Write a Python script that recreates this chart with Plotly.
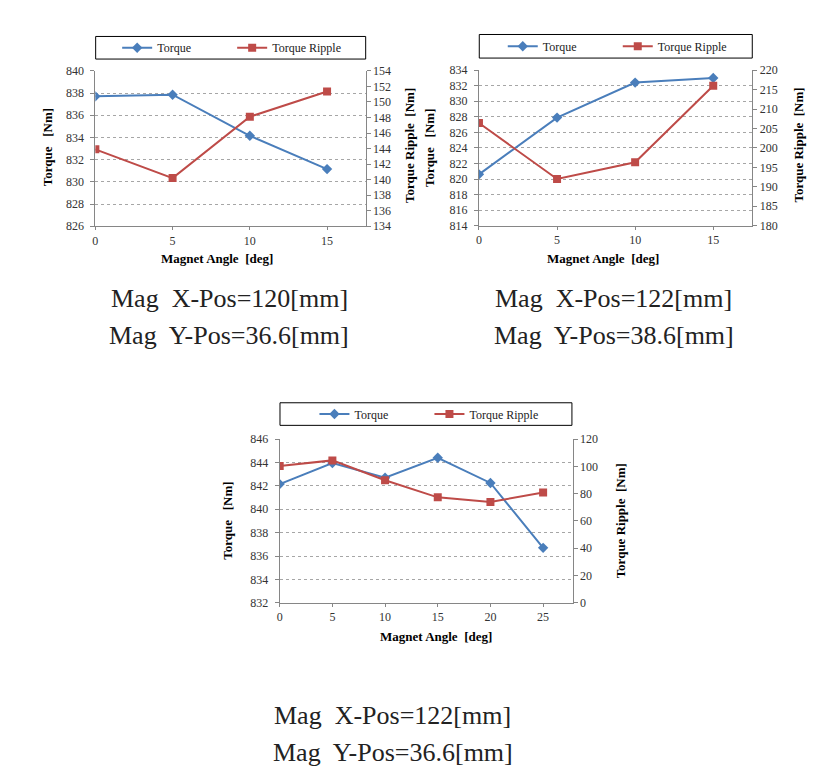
import plotly.graph_objects as go

W, H = 827, 780

# ---------------- data ----------------
angles_a = [0, 5, 10, 15]
torque_a = [837.7, 837.85, 834.15, 831.15]
ripple_a = [143.9, 140.2, 148.1, 151.35]

angles_b = [0, 5, 10, 15]
torque_b = [820.6, 827.9, 832.4, 833.0]
ripple_b = [206.4, 192.0, 196.3, 216.0]

angles_c = [0, 5, 10, 15, 20, 25]
torque_c = [842.15, 843.95, 842.7, 844.4, 842.25, 836.7]
ripple_c = [100.3, 104.4, 89.8, 77.3, 73.9, 80.9]

series_names = ["Torque", "Torque Ripple"]
captions_a = ["Mag\u00a0 X-Pos=120[mm]", "Mag\u00a0 Y-Pos=36.6[mm]"]
captions_b = ["Mag\u00a0 X-Pos=122[mm]", "Mag\u00a0 Y-Pos=38.6[mm]"]
captions_c = ["Mag\u00a0 X-Pos=122[mm]", "Mag\u00a0 Y-Pos=36.6[mm]"]
x_title = "Magnet Angle\u00a0 [deg]"
y_title_left = "Torque\u00a0\u00a0 [Nm]"
y_title_right = "Torque Ripple\u00a0 [Nm]"

# ---------------- styling ----------------
BLUE = "#4A7EBB"
RED = "#BE4B48"
AXIS = "#868686"
GRID = "#A6A6A6"
FONT = "'Liberation Serif', 'Times New Roman', serif"


def px_x(p):
    return p / W


def px_y(p):
    return 1 - p / H


panels = [
    dict(x=angles_a, t=torque_a, r=ripple_a, xk="x", yl="y", yr="y2", leg="legend",
         dom_x=(92.7, 364.0), dom_y=(65.0, 223.3), xrange=(0, 17.5),
         xticks=[0, 5, 10, 15], yl_range=(826, 840), yl_dt=2, yr_range=(134, 154), yr_dt=2,
         leg_box=(93, 364, 30, 53), leg_pos=(230, 41.5),
         ylt=(45, 143), yrt=(408, 141), xt=(215, 256),
         caps=captions_a, cap_pos=(227, 297, 334)),
    dict(x=angles_b, t=torque_b, r=ripple_b, xk="x2", yl="y3", yr="y4", leg="legend2",
         dom_x=(477.7, 752.0), dom_y=(64.3, 222.7), xrange=(0, 17.5),
         xticks=[0, 5, 10, 15], yl_range=(814, 834), yl_dt=2, yr_range=(180, 220), yr_dt=5,
         leg_box=(478, 752, 28, 52), leg_pos=(617, 40),
         ylt=(428, 143), yrt=(798, 141), xt=(602, 256),
         caps=captions_b, cap_pos=(613, 297, 334)),
    dict(x=angles_c, t=torque_c, r=ripple_c, xk="x3", yl="y5", yr="y6", leg="legend3",
         dom_x=(277.7, 571.7), dom_y=(440.0, 606.7), xrange=(0, 27.8),
         xticks=[0, 5, 10, 15, 20, 25], yl_range=(832, 846), yl_dt=2, yr_range=(0, 120), yr_dt=20,
         leg_box=(278, 571, 403, 426), leg_pos=(428, 414.5),
         ylt=(225, 523), yrt=(620, 523), xt=(435, 641),
         caps=captions_c, cap_pos=(391, 721, 759)),
]

fig = go.Figure()
layout = dict(
    width=W, height=H, margin=dict(l=0, r=0, t=0, b=0),
    paper_bgcolor="white", plot_bgcolor="white",
    font=dict(family=FONT, size=12, color="#333333"),
    showlegend=True,
)
shapes = []
annotations = []
tick_font = dict(family=FONT, size=12, color="#333333")

for i, p in enumerate(panels):
    fig.add_trace(go.Scatter(
        x=p["x"], y=p["t"], name=series_names[0], mode="lines+markers",
        line=dict(color=BLUE, width=2), marker=dict(symbol="diamond", size=8, color=BLUE),
        xaxis=p["xk"], yaxis=p["yl"], legend=p["leg"]))
    fig.add_trace(go.Scatter(
        x=p["x"], y=p["r"], name=series_names[1], mode="lines+markers",
        line=dict(color=RED, width=2), marker=dict(symbol="square", size=8, color=RED),
        xaxis=p["xk"], yaxis=p["yr"], legend=p["leg"]))

    xname = "xaxis" if p["xk"] == "x" else "xaxis" + p["xk"][1:]
    ylname = "yaxis" if p["yl"] == "y" else "yaxis" + p["yl"][1:]
    yrname = "yaxis" + p["yr"][1:]

    layout[xname] = dict(
        domain=[px_x(p["dom_x"][0]), px_x(p["dom_x"][1])], anchor=p["yl"],
        range=list(p["xrange"]), tickvals=p["xticks"], showgrid=False, zeroline=False,
        showline=True, linecolor=AXIS, linewidth=1, ticks="outside", ticklen=3,
        tickcolor=AXIS, tickfont=tick_font)
    layout[ylname] = dict(
        domain=[px_y(p["dom_y"][1]), px_y(p["dom_y"][0])], anchor=p["xk"],
        range=list(p["yl_range"]), dtick=p["yl_dt"], tick0=p["yl_range"][0],
        showgrid=True, gridcolor=GRID, griddash="3px,3px", gridwidth=1, zeroline=False,
        showline=True, linecolor=AXIS, linewidth=1, ticks="outside", ticklen=4,
        tickcolor=AXIS, tickfont=tick_font, ticklabelstandoff=4)
    layout[yrname] = dict(
        domain=[px_y(p["dom_y"][1]), px_y(p["dom_y"][0])], anchor=p["xk"],
        overlaying=p["yl"], side="right",
        range=list(p["yr_range"]), dtick=p["yr_dt"], tick0=p["yr_range"][0],
        showgrid=False, zeroline=False,
        showline=True, linecolor=AXIS, linewidth=1, ticks="outside", ticklen=4,
        tickcolor=AXIS, tickfont=tick_font)

    lx, ly = p["leg_pos"]
    layout[p["leg"]] = dict(
        orientation="h", x=px_x(lx), y=px_y(ly), xanchor="center", yanchor="middle",
        xref="paper", yref="paper", bgcolor="rgba(0,0,0,0)", borderwidth=0,
        font=dict(family=FONT, size=12, color="#222222"),
        itemwidth=30, entrywidth=70, tracegroupgap=0)

    bx0, bx1, by0, by1 = p["leg_box"]
    shapes.append(dict(type="rect", xref="paper", yref="paper",
                       x0=px_x(bx0), x1=px_x(bx1), y0=px_y(by1), y1=px_y(by0),
                       line=dict(color="black", width=1), fillcolor="rgba(0,0,0,0)"))

    title_font = dict(family=FONT, size=13, color="black")
    annotations.append(dict(text="<b>%s</b>" % y_title_left, x=px_x(p["ylt"][0]), y=px_y(p["ylt"][1]),
                            xref="paper", yref="paper", showarrow=False, textangle=-90,
                            font=title_font, xanchor="center", yanchor="middle"))
    annotations.append(dict(text="<b>%s</b>" % y_title_right, x=px_x(p["yrt"][0]), y=px_y(p["yrt"][1]),
                            xref="paper", yref="paper", showarrow=False, textangle=-90,
                            font=title_font, xanchor="center", yanchor="middle"))
    annotations.append(dict(text="<b>%s</b>" % x_title, x=px_x(p["xt"][0]), y=px_y(p["xt"][1]),
                            xref="paper", yref="paper", showarrow=False,
                            font=title_font, xanchor="center", yanchor="middle"))
    cx, cy1, cy2 = p["cap_pos"]
    for txt, cy in zip(p["caps"], [cy1, cy2]):
        annotations.append(dict(text=txt, x=px_x(cx), y=px_y(cy), xref="paper", yref="paper",
                                showarrow=False, xanchor="center", yanchor="middle",
                                font=dict(family=FONT, size=26, color="#222222")))

layout["shapes"] = shapes
layout["annotations"] = annotations
fig.update_layout(**layout)

fig.write_html("out.html")
